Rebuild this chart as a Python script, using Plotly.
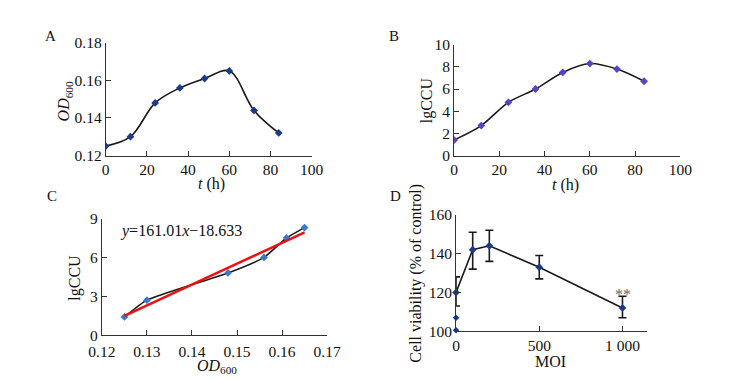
import plotly.graph_objects as go

# ---- data ----
t_hours = [0, 12, 24, 36, 48, 60, 72, 84]
od600 = [0.125, 0.130, 0.148, 0.156, 0.161, 0.165, 0.144, 0.132]
lgccu = [1.4, 2.7, 4.8, 6.0, 7.5, 8.3, 7.8, 6.7]

c_od = [0.125, 0.130, 0.148, 0.156, 0.161, 0.165]
c_lg = [1.4, 2.7, 4.8, 6.0, 7.5, 8.3]
fit_x = [0.125, 0.165]
fit_y = [1.49, 7.93]

moi = [0, 100, 200, 500, 1000]
viability = [120, 142, 144, 133, 112]
err_plus = [8, 9, 8, 6, 6]
err_minus = [7, 10, 8, 6, 5]
extra_moi = [0, 0]
extra_via = [107, 100.5]

W, H = 745, 380
FONT = "Liberation Serif"

def dx(a, b):
    return [a / W, b / W]

def dy(top, bottom):
    return [1 - bottom / H, 1 - top / H]

fig = go.Figure()

line_k = dict(color="#1a1a1a", width=1.6)

# A
fig.add_trace(go.Scatter(x=t_hours, y=od600, mode="lines+markers", line=dict(line_k, shape="spline", smoothing=1.0),
                         marker=dict(symbol="diamond", size=6, color="#1b3a8c"), xaxis="x", yaxis="y"))
# B
fig.add_trace(go.Scatter(x=t_hours, y=lgccu, mode="lines+markers", line=dict(line_k, shape="spline", smoothing=0.9),
                         marker=dict(symbol="diamond", size=6, color="#5b3fc4"), xaxis="x2", yaxis="y2"))
# C
fig.add_trace(go.Scatter(x=c_od, y=c_lg, mode="lines+markers", line=dict(line_k, shape="spline", smoothing=0.5),
                         marker=dict(symbol="diamond", size=6, color="#3b78c8"), xaxis="x3", yaxis="y3"))
fig.add_trace(go.Scatter(x=fit_x, y=fit_y, mode="lines", line=dict(color="#ee1111", width=2.6),
                         xaxis="x3", yaxis="y3"))
# D
fig.add_trace(go.Scatter(x=moi, y=viability, mode="lines+markers", line=line_k,
                         marker=dict(symbol="diamond", size=6, color="#1b3a8c"),
                         error_y=dict(type="data", array=err_plus, arrayminus=err_minus, color="#1a1a1a",
                                      thickness=1.6, width=4),
                         xaxis="x4", yaxis="y4", cliponaxis=False))
fig.add_trace(go.Scatter(x=extra_moi, y=extra_via, mode="markers",
                         marker=dict(symbol="diamond", size=5, color="#1b3a8c"),
                         xaxis="x4", yaxis="y4", cliponaxis=False))

ax_common = dict(showline=True, linecolor="#333333", linewidth=1, ticks="inside", ticklen=5,
                 tickcolor="#333333", showgrid=False, zeroline=False,
                 tickfont=dict(family=FONT, size=15.5, color="#111111"))

fig.update_layout(
    width=W, height=H, margin=dict(l=0, r=0, t=0, b=0),
    paper_bgcolor="white", plot_bgcolor="white", showlegend=False,
    xaxis=dict(ax_common, domain=dx(87, 301), range=[0, 100], dtick=20, anchor="y"),
    yaxis=dict(ax_common, domain=dy(27, 145), range=[0.12, 0.18], dtick=0.02, tickformat=".2f", anchor="x"),
    xaxis2=dict(ax_common, domain=dx(449, 684), range=[0, 100], dtick=20, anchor="y2"),
    yaxis2=dict(ax_common, domain=dy(29, 145), range=[0, 10], dtick=2, anchor="x2"),
    xaxis3=dict(ax_common, domain=dx(83, 317), range=[0.12, 0.17], dtick=0.01, tickformat=".2f", anchor="y3",
                ticklabelstandoff=2),
    yaxis3=dict(ax_common, domain=dy(211, 333), range=[0, 9], dtick=3, anchor="x3"),
    xaxis4=dict(ax_common, domain=dx(451, 649), range=[0, 1145], tickvals=[0, 500, 1000],
                ticktext=["0", "500", "1 000"], anchor="y4"),
    yaxis4=dict(ax_common, domain=dy(207, 329), range=[100, 160], dtick=20, anchor="x4"),
)

def ann(text, x, y, size=16, angle=0, color="#111111", xanchor="center"):
    fig.add_annotation(text=text, x=x / W, y=1 - y / H, xref="paper", yref="paper", showarrow=False,
                       textangle=angle, xanchor=xanchor, yanchor="middle",
                       font=dict(family=FONT, size=size, color=color))

ann("A", 30, 20, size=15)
ann("B", 387, 20, size=15)
ann("C", 31, 187, size=15)
ann("D", 388, 187, size=15)

ann("<i>OD</i><sub>600</sub>", 44, 88, angle=-90)
ann("<i>t</i> (h)", 197, 175)
ann("lgCCU", 421, 87, angle=-90)
ann("<i>t</i> (h)", 565, 176)
ann("lgCCU", 55, 273, angle=-90)
ann("<i>OD</i><sub>600</sub>", 203, 366)
ann("Cell viability (% of control)", 409, 268, angle=-90)
ann("MOI", 549, 361)
ann("<i>y</i>=161.01<i>x</i>−18.633", 100, 224, size=16, xanchor="left")
ann("**", 624, 290, size=16, color="#666666")

fig.write_html("out.html")
